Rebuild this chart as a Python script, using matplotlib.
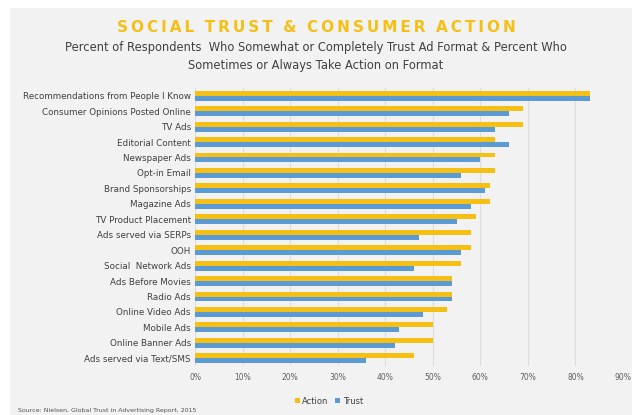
import numpy as np
import matplotlib
matplotlib.use('Agg')
import matplotlib.pyplot as plt
from matplotlib.patches import Rectangle

# Data, top to bottom
categories = ['Recommendations from People I Know', 'Consumer Opinions Posted Online',
              'TV Ads', 'Editorial Content', 'Newspaper Ads', 'Opt-in Email',
              'Brand Sponsorships', 'Magazine Ads', 'TV Product Placement',
              'Ads served via SERPs', 'OOH', 'Social  Network Ads', 'Ads Before Movies',
              'Radio Ads', 'Online Video Ads', 'Mobile Ads', 'Online Banner Ads',
              'Ads served via Text/SMS']
action = [83, 69, 69, 63, 63, 63, 62, 62, 59, 58, 58, 56, 54, 54, 53, 50, 50, 46]
trust = [83, 66, 63, 66, 60, 56, 61, 58, 55, 47, 56, 46, 54, 54, 48, 43, 42, 36]
xticks = [0, 10, 20, 30, 40, 50, 60, 70, 80, 90]

bg = '#f2f2f2'
gold = '#f5bf13'
blue = '#5b9bd5'
textcol = '#404040'

fig = plt.figure(figsize=(6.32, 4.15), dpi=100)
fig.patch.set_facecolor('white')
# gray panel (white margin top/left as in the screenshot)
fig.patches.append(Rectangle((10 / 632, 0), 1, 1 - 8 / 415, transform=fig.transFigure,
                             facecolor=bg, edgecolor='none', zorder=-5))

ax = fig.add_axes([195 / 632, 49 / 415, 428 / 632, 278 / 415])
ax.set_zorder(2)
ax.set_facecolor(bg)

y = np.arange(len(categories))
h = 0.32
ax.barh(y - h / 2, action, height=h, color=gold, label='Action', zorder=3)
ax.barh(y + h / 2, trust, height=h, color=blue, label='Trust', zorder=3)

ax.set_ylim(len(categories) - 0.5, -0.5)
ax.set_xlim(0, 90)
ax.set_yticks(y)
ax.set_yticklabels(categories, fontsize=6.3, color=textcol)
ax.set_xticks(xticks)
ax.set_xticklabels([str(t) + '%' for t in xticks], fontsize=5.5, color='#606060')
ax.tick_params(length=0, pad=3)
ax.tick_params(axis='x', pad=5)
ax.grid(axis='x', color='#dcdcdc', linewidth=0.8, zorder=0)
for s in ax.spines.values():
    s.set_visible(False)

title = '\u2009'.join('SOCIAL TRUST & CONSUMER ACTION').replace('\u2009 \u2009', '  ')
fig.text(0.5, 1 - 27 / 415, title,
         ha='center', va='center', fontsize=11, fontweight='bold', color=gold)
fig.text(0.5, 1 - 48 / 415, 'Percent of Respondents  Who Somewhat or Completely Trust Ad Format & Percent Who',
         ha='center', va='center', fontsize=8.3, color=textcol)
fig.text(0.5, 1 - 65 / 415, 'Sometimes or Always Take Action on Format',
         ha='center', va='center', fontsize=8.3, color=textcol)

leg = fig.legend(loc='center', bbox_to_anchor=(329 / 632, 1 - 401 / 415), ncol=2,
                 frameon=False, fontsize=6, handlelength=0.6, handleheight=0.6,
                 handletextpad=0.3, columnspacing=0.8)
for t in leg.get_texts():
    t.set_color(textcol)

fig.text(18 / 632, 1 - 410 / 415, 'Source: Nielsen, Global Trust in Advertising Report, 2015',
         ha='left', va='center', fontsize=4.5, color='#505050')

fig.savefig('out.png', dpi=100, facecolor=fig.get_facecolor())
